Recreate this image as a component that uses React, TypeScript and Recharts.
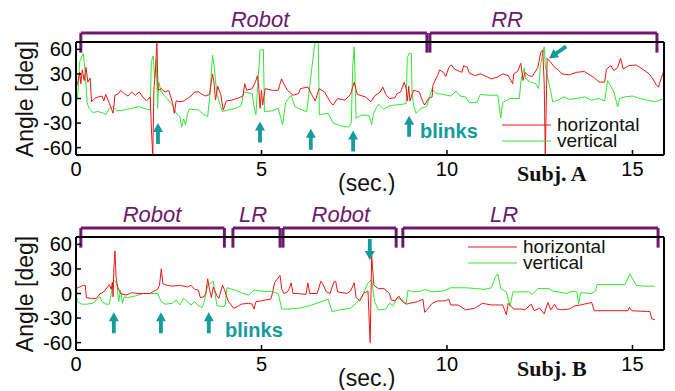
import { LineChart, Line, XAxis, YAxis, ReferenceLine, ReferenceDot } from "recharts";

type Pt = [number, number];

const xTicks = [0, 5, 10, 15];
const yTicks = [-60, -30, 0, 30, 60];

// Subj. A, eye angle in degrees over time (sec.)
const horizontalA: Pt[] = [
  [0, 14], [0.05, 20], [0.1, 32], [0.13, 18], [0.17, 35], [0.22, 22], [0.27, 38], [0.32, 20], [0.38, 25], [0.42, -4],
  [0.5, 0], [0.6, 2], [0.7, 3], [0.75, -3], [0.8, 5], [0.9, -6], [1.0, -18], [1.05, 4], [1.15, 6], [1.2, 10],
  [1.3, 6], [1.4, 3], [1.5, 8], [1.6, 4], [1.7, 8], [1.8, 2], [1.9, -3], [2.0, 2], [2.04, -45], [2.07, -69],
  [2.1, 10], [2.15, 40], [2.18, 69], [2.21, 10], [2.3, 12], [2.4, 8], [2.5, 10], [2.6, -5], [2.65, -18], [2.7, -3],
  [2.8, -4], [2.9, -3], [3.0, 0], [3.1, 3], [3.2, 8], [3.3, 8], [3.4, 5], [3.5, 3], [3.6, 5], [3.68, 30],
  [3.72, 20], [3.76, -2], [3.82, 15], [3.9, 5], [3.97, -14], [4.05, -3], [4.2, -2], [4.4, 1], [4.5, 3], [4.55, 18],
  [4.6, 10], [4.75, 12], [4.85, 22], [4.89, 28], [4.93, 12], [4.96, -12], [5.0, 10], [5.03, -8], [5.1, 12], [5.3, 10],
  [5.45, 10], [5.54, 24], [5.6, 18], [5.7, 10], [5.85, 4], [6.0, 6], [6.05, 12], [6.25, 14], [6.35, 5], [6.45, -3],
  [6.55, 12], [6.7, 8], [6.85, -4], [6.93, -8], [7.05, 0], [7.25, -2], [7.4, 5], [7.5, 20], [7.58, 5], [7.8, 2],
  [7.95, -4], [8.05, 3], [8.2, 8], [8.27, 14], [8.35, 5], [8.45, 0], [8.6, 1], [8.65, 6], [8.75, 8], [8.85, 20],
  [8.9, 12], [8.93, -3], [8.97, 15], [9.0, -3], [9.1, 10], [9.25, 8], [9.35, -4], [9.4, -8], [9.5, 0], [9.6, 2],
  [9.62, 16], [9.7, 24], [9.75, 28], [9.8, 35], [9.9, 32], [9.97, 27], [10.05, 38], [10.12, 41], [10.2, 36], [10.3, 34],
  [10.4, 32], [10.45, 40], [10.55, 38], [10.6, 31], [10.75, 28], [10.9, 30], [11.0, 28], [11.1, 26], [11.2, 24], [11.35, 26],
  [11.5, 30], [11.65, 28], [11.77, 18], [11.8, 30], [11.9, 33], [11.99, 43], [12.05, 22], [12.1, 32], [12.2, 28], [12.3, 27],
  [12.45, 38], [12.53, 57], [12.58, 59], [12.62, 20], [12.65, -69], [12.7, 49], [12.8, 44], [12.9, 38], [13.0, 35], [13.1, 30],
  [13.3, 29], [13.5, 32], [13.7, 33], [13.95, 26], [14.1, 20], [14.25, 20], [14.3, 36], [14.42, 40], [14.5, 34], [14.6, 38],
  [14.68, 49], [14.75, 36], [14.9, 40], [15.1, 41], [15.3, 35], [15.45, 30], [15.55, 24], [15.65, 16], [15.7, 14], [15.77, 24],
  [15.85, 34],
];

const verticalA: Pt[] = [
  [0, -8], [0.05, 5], [0.1, 45], [0.2, 55], [0.25, 30], [0.3, -5], [0.35, -12], [0.45, -17], [0.6, -16], [0.75, -18],
  [0.8, -20], [0.9, -12], [1.0, -10], [1.1, -15], [1.3, -14], [1.5, -12], [1.7, -10], [1.9, -13], [2.0, -14], [2.03, 45],
  [2.08, 52], [2.12, 25], [2.16, 48], [2.2, -12], [2.23, 20], [2.3, 8], [2.45, 0], [2.6, -8], [2.7, -18], [2.8, -22],
  [2.85, -35], [2.9, -25], [2.95, -32], [3.0, -20], [3.05, -13], [3.3, -14], [3.45, -20], [3.55, -22], [3.62, 10], [3.68, 53],
  [3.72, 40], [3.8, 5], [3.9, -10], [3.95, -16], [4.1, -14], [4.3, -12], [4.45, -9], [4.52, 8], [4.75, 6], [4.8, -10],
  [4.85, -20], [4.96, 59], [5.05, 60], [5.08, -16], [5.3, -15], [5.45, -12], [5.57, -32], [5.65, -5], [5.8, 4], [5.9, -10],
  [6.1, -14], [6.22, -16], [6.44, 69], [6.53, 69], [6.56, -20], [6.8, -18], [6.93, -30], [7.1, -33], [7.35, -35], [7.42, -30],
  [7.46, 40], [7.5, 63], [7.55, -24], [7.7, -20], [7.9, -21], [7.97, -32], [8.02, -18], [8.15, -7], [8.3, -13], [8.45, -9],
  [8.6, -8], [8.8, -7], [8.9, -6], [8.93, 50], [8.98, 55], [9.04, 55], [9.06, 3], [9.12, -12], [9.17, -18], [9.3, -12],
  [9.45, -10], [9.55, 5], [9.6, 12], [9.7, 6], [9.9, 5], [10.1, 3], [10.25, 9], [10.35, 3], [10.5, 2], [10.6, -5],
  [10.8, -5], [10.9, 5], [11.1, 4], [11.37, 4], [11.45, -24], [11.5, -5], [11.7, 0], [11.95, 0], [12.0, 24], [12.08, 37],
  [12.13, 24], [12.25, 20], [12.4, 18], [12.47, 12], [12.52, 40], [12.62, 63], [12.65, 40], [12.72, 24], [12.8, 8], [12.85, -4],
  [13.0, -2], [13.15, 2], [13.3, -1], [13.5, 0], [13.7, 2], [13.9, -2], [14.1, 0], [14.25, -3], [14.33, 22], [14.4, 16],
  [14.5, 8], [14.6, -10], [14.65, 0], [14.8, 2], [15.0, 3], [15.2, 0], [15.4, -2], [15.6, -4], [15.85, 0],
];

// Subj. B
const horizontalB: Pt[] = [
  [0, 6], [0.1, 8], [0.2, 10], [0.25, 10], [0.28, -5], [0.4, -6], [0.55, -6], [0.65, 0], [0.75, 2], [0.85, 8],
  [0.9, 11], [0.95, 5], [0.98, 14], [1.0, -4], [1.02, 30], [1.05, 52], [1.08, 20], [1.12, 8], [1.2, 0], [1.35, -2],
  [1.5, 1], [1.7, 0], [2.0, 0], [2.1, 3], [2.2, 5], [2.25, 10], [2.3, 30], [2.34, 12], [2.45, 10], [2.6, 9],
  [2.8, 10], [3.0, 8], [3.1, 10], [3.2, 5], [3.3, 4], [3.35, -5], [3.45, -4], [3.5, 0], [3.55, 18], [3.6, 5],
  [3.65, -5], [3.7, 8], [3.8, -3], [3.85, -6], [3.95, 10], [4.0, 5], [4.1, -9], [4.25, -18], [4.35, -16], [4.45, -13],
  [4.65, -12], [4.75, -13], [4.8, -19], [4.85, -10], [5.0, -9], [5.1, -8], [5.25, -7], [5.3, 1], [5.35, 13], [5.4, 16],
  [5.5, 22], [5.55, 5], [5.6, 0], [5.7, 2], [5.75, 6], [5.8, 13], [5.85, 0], [5.95, 0], [6.2, -1], [6.25, 13],
  [6.3, 0], [6.5, 0], [6.6, 15], [6.65, 12], [6.75, 2], [6.85, 0], [6.95, 14], [7.0, 15], [7.05, 2], [7.3, 0],
  [7.4, 3], [7.5, 13], [7.55, -5], [7.65, -9], [7.75, 0], [7.87, 3], [7.93, -60], [7.97, 46], [8.03, 10], [8.15, 6],
  [8.3, 6], [8.45, 0], [8.5, -8], [8.6, -9], [8.7, -3], [8.8, -10], [8.9, -13], [9.0, -12], [9.2, -10], [9.35, -7],
  [9.4, -23], [9.5, -18], [9.6, -12], [9.75, -9], [9.95, -9], [10.05, -7], [10.1, -14], [10.3, -14], [10.5, -20], [10.75, -18],
  [10.95, -12], [11.2, -14], [11.5, -14], [11.57, -22], [11.6, -26], [11.65, -12], [11.8, -19], [12.0, -19], [12.1, -20], [12.27, -13],
  [12.35, -21], [12.5, -18], [12.62, -25], [12.72, -11], [12.8, -20], [12.9, -13], [12.97, -19], [13.1, -20], [13.3, -19], [13.45, -15],
  [13.6, -14], [13.9, -11], [13.97, -21], [14.4, -21], [14.88, -21], [14.92, -17], [14.98, -21], [15.4, -22], [15.47, -22], [15.52, -31],
  [15.6, -32],
];

const verticalB: Pt[] = [
  [0, -2], [0.05, -10], [0.15, -13], [0.3, -13], [0.45, -12], [0.55, -8], [0.65, -4], [0.7, -10], [0.8, -13], [0.9, -13],
  [0.95, 0], [1.0, 14], [1.04, 16], [1.1, 12], [1.15, -10], [1.2, 4], [1.25, -12], [1.3, -4], [1.4, -5], [1.6, -3],
  [1.8, 0], [2.0, 0], [2.2, 0], [2.3, -10], [2.4, -13], [2.6, -12], [2.7, -8], [2.8, -14], [2.9, -6], [3.0, -10],
  [3.1, -14], [3.2, -10], [3.3, -15], [3.4, -17], [3.45, -11], [3.55, 10], [3.7, 15], [3.8, -15], [3.95, -16], [4.02, -15],
  [4.07, 7], [4.3, 4], [4.45, 1], [4.65, -2], [4.8, 4], [5.0, 3], [5.3, 2], [5.45, 0], [5.55, -19], [5.7, -19],
  [6.0, -18], [6.3, -15], [6.55, -11], [6.8, -7], [6.9, -22], [7.1, -20], [7.4, -18], [7.55, -12], [7.7, -5], [7.87, 13],
  [7.97, 17], [8.05, -10], [8.15, -20], [8.35, -19], [8.45, -12], [8.55, -15], [8.65, -5], [8.8, -8], [8.9, -12], [8.95, 4],
  [9.1, 2], [9.3, 3], [9.4, 5], [9.6, 2], [9.9, 3], [10.1, 7], [10.5, 7], [10.8, 6], [11.0, 5], [11.2, 7],
  [11.3, 20], [11.37, 24], [11.45, 6], [11.6, 2], [11.7, -15], [11.78, 2], [12.2, 2], [12.3, -1], [12.45, 6], [12.75, 6],
  [12.85, 3], [13.0, 2], [13.2, 0], [13.4, 3], [13.5, 2], [13.55, -13], [13.6, 1], [13.9, 0], [14.0, 3], [14.05, 11],
  [14.8, 11], [14.93, 24], [15.1, 10], [15.3, 9], [15.6, 9],
];

// task phases shown by the brackets above each panel
const phasesA = [
  { label: "Robot", from: 0.13, to: 9.46, at: 4.96 },
  { label: "RR", from: 9.54, to: 15.66, at: 11.62 },
];
const phasesB = [
  { label: "Robot", from: 0.13, to: 4.0, at: 2.05 },
  { label: "LR", from: 4.23, to: 5.5, at: 4.77 },
  { label: "Robot", from: 5.58, to: 8.63, at: 7.14 },
  { label: "LR", from: 8.81, to: 15.69, at: 11.54 },
];

// arrow tips (t, deg) and pointing direction (deg, 0 = up)
const arrowsA = [
  { t: 2.21, v: -30, dir: 0 },
  { t: 4.96, v: -28, dir: 0 },
  { t: 6.33, v: -37, dir: 0 },
  { t: 7.47, v: -39, dir: 0 },
  { t: 8.98, v: -21, dir: 0 },
  { t: 12.75, v: 49, dir: -125 },
];
const arrowsB = [
  { t: 1.02, v: -23, dir: 0 },
  { t: 2.29, v: -23, dir: 0 },
  { t: 3.58, v: -23, dir: 0 },
  { t: 7.92, v: 41, dir: 180 },
];

const RED = "#f01515";
const GREEN = "#33e633";
const PURPLE = "#6c1a6c";
const TEAL = "#159b9b";
const SANS = "'Liberation Sans', Arial, sans-serif";
const SERIF = "'Liberation Serif', 'Times New Roman', serif";

const W = 675;
const H = 195;
const BR_TOP = 80;
const BR_FOOT = 56;

function Arrow(props: any) {
  const { cx, cy, dir } = props;
  return (
    <polygon
      points="0,0 -5,9 -1.9,9 -1.9,21 1.9,21 1.9,9 5,9"
      fill={TEAL}
      transform={`translate(${cx},${cy}) rotate(${dir})`}
    />
  );
}

function PhaseLabel(props: any) {
  const { cx, cy, text } = props;
  return (
    <text x={cx} y={cy} textAnchor="middle" fontFamily={SANS} fontStyle="italic" fontSize={22} fill={PURPLE}>
      {text}
    </text>
  );
}

interface PanelProps {
  h: Pt[];
  v: Pt[];
  phases: { label: string; from: number; to: number; at: number }[];
  arrows: { t: number; v: number; dir: number }[];
  subj: string;
  blinksAt: [number, number];
  legendY: number;
  legendX: number;
}

function Panel({ h, v, phases, arrows, subj, blinksAt, legendY, legendX }: PanelProps) {
  const hRows = h.map(([t, val]) => ({ t, val }));
  const vRows = v.map(([t, val]) => ({ t, val }));
  const axisStroke = { stroke: "#000", strokeWidth: 2 };
  const tickFont = { fontSize: 20, fill: "#000", fontFamily: SANS };

  return (
    <div style={{ position: "relative", width: W, height: H }}>
      <LineChart width={W} height={H} margin={{ top: 40, right: 10, bottom: 10, left: 36 }}>
        <XAxis
          type="number"
          dataKey="t"
          domain={[0, 15.85]}
          ticks={xTicks}
          interval={0}
          allowDataOverflow
          height={30}
          tickSize={-5}
          tickMargin={12}
          axisLine={axisStroke}
          tickLine={{ stroke: "#000", strokeWidth: 1.5 }}
          tick={tickFont}
        />
        <XAxis
          xAxisId="top"
          orientation="top"
          type="number"
          domain={[0, 15.85]}
          ticks={xTicks}
          interval={0}
          height={2}
          tickSize={-5}
          axisLine={axisStroke}
          tickLine={{ stroke: "#000", strokeWidth: 1.5 }}
          tick={false}
        />
        <YAxis
          type="number"
          domain={[-69, 69]}
          ticks={yTicks}
          interval={0}
          allowDataOverflow
          width={40}
          tickSize={-5}
          tickMargin={9}
          axisLine={axisStroke}
          tickLine={{ stroke: "#000", strokeWidth: 1.5 }}
          tick={tickFont}
        />
        <YAxis
          yAxisId="right"
          orientation="right"
          type="number"
          domain={[-69, 69]}
          ticks={yTicks}
          interval={0}
          width={1}
          tickSize={-5}
          axisLine={axisStroke}
          tickLine={{ stroke: "#000", strokeWidth: 1.5 }}
          tick={false}
        />
        <Line data={vRows} dataKey="val" type="linear" stroke={GREEN} strokeWidth={1} dot={false} isAnimationActive={false} />
        <Line data={hRows} dataKey="val" type="linear" stroke={RED} strokeWidth={1} dot={false} isAnimationActive={false} />
        {phases.map((p, i) => (
          <ReferenceLine
            key={`a${i}`}
            segment={[{ x: p.from, y: BR_FOOT }, { x: p.from, y: BR_TOP }]}
            stroke={PURPLE}
            strokeWidth={3}
            ifOverflow="visible"
          />
        ))}
        {phases.map((p, i) => (
          <ReferenceLine
            key={`b${i}`}
            segment={[{ x: p.from, y: BR_TOP }, { x: p.to, y: BR_TOP }]}
            stroke={PURPLE}
            strokeWidth={3}
            ifOverflow="visible"
          />
        ))}
        {phases.map((p, i) => (
          <ReferenceLine
            key={`c${i}`}
            segment={[{ x: p.to, y: BR_TOP }, { x: p.to, y: BR_FOOT }]}
            stroke={PURPLE}
            strokeWidth={3}
            ifOverflow="visible"
          />
        ))}
        {phases.map((p, i) => (
          <ReferenceDot
            key={`l${i}`}
            x={p.at}
            y={87}
            r={1}
            ifOverflow="visible"
            shape={(props: any) => <PhaseLabel {...props} text={p.label} />}
          />
        ))}
        {arrows.map((a, i) => (
          <ReferenceDot
            key={`r${i}`}
            x={a.t}
            y={a.v}
            r={1}
            ifOverflow="visible"
            shape={(props: any) => <Arrow {...props} dir={a.dir} />}
          />
        ))}
      </LineChart>
      <svg width={W} height={H} style={{ position: "absolute", left: 0, top: 0, pointerEvents: "none" }}>
        <text
          transform="translate(25,99) rotate(-90)"
          textAnchor="middle"
          dominantBaseline="central"
          fontFamily={SANS}
          fontSize={23}
          fill="#111"
        >
          Angle [deg]
        </text>
        <text x={blinksAt[0]} y={blinksAt[1]} fontFamily={SANS} fontWeight="bold" fontSize={20} fill={TEAL}>
          blinks
        </text>
        <text x={338} y={191} fontFamily={SANS} fontSize={23} fill="#111">
          (sec.)
        </text>
        <text x={517} y={181} fontFamily={SERIF} fontWeight="bold" fontSize={22} fill="#111">
          {subj}
        </text>
        <line x1={legendX} x2={legendX + 49} y1={legendY} y2={legendY} stroke={RED} strokeWidth={1} />
        <text x={legendX + 55} y={legendY + 6} fontFamily={SANS} fontSize={19} fill="#111">
          horizontal
        </text>
        <line x1={legendX} x2={legendX + 49} y1={legendY + 16} y2={legendY + 16} stroke={GREEN} strokeWidth={1} />
        <text x={legendX + 55} y={legendY + 22} fontFamily={SANS} fontSize={19} fill="#111">
          vertical
        </text>
      </svg>
    </div>
  );
}

export default function App() {
  return (
    <div style={{ position: "absolute", left: 0, top: 0, width: W, height: 391, background: "#fff" }}>
      <Panel
        h={horizontalA}
        v={verticalA}
        phases={phasesA}
        arrows={arrowsA}
        subj="Subj. A"
        blinksAt={[420, 138]}
        legendX={502}
        legendY={125}
      />
      <Panel
        h={horizontalB}
        v={verticalB}
        phases={phasesB}
        arrows={arrowsB}
        subj="Subj. B"
        blinksAt={[225, 142]}
        legendX={468}
        legendY={52}
      />
    </div>
  );
}
